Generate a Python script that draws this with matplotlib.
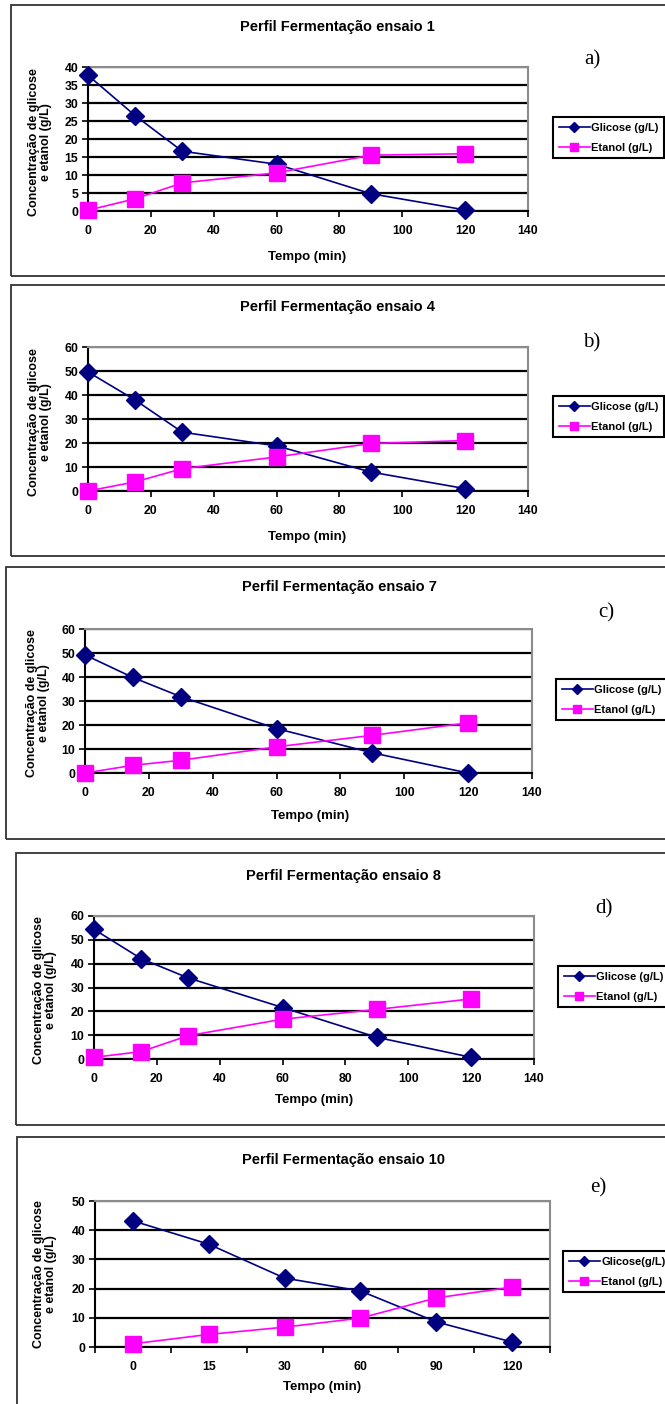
import matplotlib
matplotlib.use("Agg")
import matplotlib.pyplot as plt
import numpy as np
from matplotlib.patches import Rectangle

plt.rcParams['font.family'] = ['Liberation Sans', 'DejaVu Sans']
plt.rcParams['font.weight'] = 'bold'

# ---- data -------------------------------------------------------------
tempo = [0, 15, 30, 60, 90, 120]
tempo_labels = ['0', '15', '30', '60', '90', '120']

glicose_1 = [37.7, 26.5, 16.6, 13.0, 4.8, 0.3]
etanol_1 = [0.2, 3.4, 7.8, 10.6, 15.5, 15.9]
glicose_4 = [49.6, 37.9, 24.5, 18.8, 7.9, 1.0]
etanol_4 = [0.0, 3.8, 9.3, 14.2, 19.8, 21.0]
glicose_7 = [49.2, 39.8, 31.8, 18.5, 8.4, 0.0]
etanol_7 = [0.0, 3.2, 5.3, 10.9, 15.7, 20.9]
glicose_8 = [54.4, 42.1, 34.0, 21.6, 9.1, 0.7]
etanol_8 = [0.7, 3.1, 9.8, 16.7, 20.8, 25.2]
glicose_10 = [43.2, 35.2, 23.6, 19.2, 8.6, 1.7]
etanol_10 = [1.1, 4.3, 6.8, 9.9, 16.8, 20.5]

titles = ['Perfil Fermentação ensaio 1', 'Perfil Fermentação ensaio 4',
          'Perfil Fermentação ensaio 7', 'Perfil Fermentação ensaio 8',
          'Perfil Fermentação ensaio 10']
letters = ['a)', 'b)', 'c)', 'd)', 'e)']
glicose_names = ['Glicose (g/L)'] * 4 + ['Glicose(g/L)']
etanol_name = 'Etanol (g/L)'
xlabel = 'Tempo (min)'
ylabel = 'Concentração de glicose\ne etanol (g/L)'

# ---- layout (pixels) --------------------------------------------------
W, H = 665, 1404
fig = plt.figure(figsize=(W / 100, H / 100), dpi=100)


def fx(x):
    return x / W


def fy(y):
    return 1 - y / H


panels = [
    dict(g=glicose_1, e=etanol_1, ymax=40, ystep=5, cat=False,
         plot=(88, 67, 528, 211), box=(11, 5, 700, 276),
         title=(337, 27), letter=(592, 60), leg=(553, 117),
         xl=(307, 257), yl=(40, 142)),
    dict(g=glicose_4, e=etanol_4, ymax=60, ystep=10, cat=False,
         plot=(88, 347, 528, 491), box=(11, 285, 700, 556),
         title=(337, 307), letter=(592, 343), leg=(553, 396),
         xl=(307, 537), yl=(40, 422)),
    dict(g=glicose_7, e=etanol_7, ymax=60, ystep=10, cat=False,
         plot=(85, 629, 532, 773), box=(6, 567, 700, 839),
         title=(339, 587), letter=(606, 613), leg=(556, 679),
         xl=(310, 816), yl=(38, 703)),
    dict(g=glicose_8, e=etanol_8, ymax=60, ystep=10, cat=False,
         plot=(94, 916, 534, 1059), box=(16, 853, 700, 1125),
         title=(343, 876), letter=(604, 909), leg=(558, 966),
         xl=(314, 1100), yl=(45, 990)),
    dict(g=glicose_10, e=etanol_10, ymax=50, ystep=10, cat=True,
         plot=(95, 1201, 550, 1347), box=(17, 1137, 700, 1450),
         title=(343, 1160), letter=(598, 1188), leg=(563, 1251),
         xl=(322, 1387), yl=(45, 1274)),
]

navy = '#000080'
magenta = '#FF00FF'

for i, p in enumerate(panels):
    l, t, r, b = p['plot']
    ax = fig.add_axes([fx(l), fy(b), (r - l) / W, (b - t) / H])

    if p['cat']:
        x = np.arange(len(tempo))
    else:
        x = np.array(tempo)

    lg, = ax.plot(x, p['g'], color=navy, marker='D', ms=9.5, lw=1.2,
                  clip_on=False, zorder=3)
    le, = ax.plot(x, p['e'], color=magenta, marker='s', ms=11, lw=1.2,
                  clip_on=False, zorder=3)

    ax.set_ylim(0, p['ymax'])
    ax.set_yticks(np.arange(0, p['ymax'] + 1, p['ystep']))
    if p['cat']:
        # category axis: labels centred, tick marks on category borders
        ax.set_xlim(-0.5, len(tempo) - 0.5)
        ax.set_xticks(x)
        ax.set_xticklabels(tempo_labels)
        ax.set_xticks(np.arange(-0.5, len(tempo)), minor=True)
        ax.tick_params(axis='x', which='major', length=0, pad=10)
        ax.tick_params(axis='x', which='minor', length=4, width=1.2,
                       direction='out')
    else:
        ax.set_xlim(0, 140)
        ax.set_xticks(np.arange(0, 141, 20))
        ax.tick_params(axis='x', length=4, width=1.2, direction='out', pad=6)

    ax.tick_params(axis='y', length=4, width=1.2, direction='out', pad=3)
    ax.tick_params(labelsize=8.8)
    for lab in ax.get_xticklabels() + ax.get_yticklabels():
        lab.set_fontweight('bold')

    ax.yaxis.grid(True, color='black', lw=1.6)
    ax.set_axisbelow(True)
    for s in ('top', 'right'):
        ax.spines[s].set_color('#8c8c8c')
        ax.spines[s].set_linewidth(1.5)
    for s in ('left', 'bottom'):
        ax.spines[s].set_color('black')
        ax.spines[s].set_linewidth(1.5)

    # outer frame of each chart
    bl, bt, br, bb = p['box']
    fig.patches.append(Rectangle((fx(bl), fy(bb)), (br - bl) / W,
                                 (bb - bt) / H, transform=fig.transFigure,
                                 fill=False, edgecolor='#333333', lw=1.3))

    fig.text(fx(p['title'][0]), fy(p['title'][1]), titles[i], ha='center',
             va='center', fontsize=10.5, fontweight='bold')
    fig.text(fx(p['letter'][0]), fy(p['letter'][1]), letters[i], ha='center',
             va='center', fontsize=15, fontweight='normal',
             family='Liberation Serif')
    fig.text(fx(p['xl'][0]), fy(p['xl'][1]), xlabel, ha='center',
             va='center', fontsize=9.5, fontweight='bold')
    fig.text(fx(p['yl'][0]), fy(p['yl'][1]), ylabel, ha='center',
             va='center', rotation=90, fontsize=9, fontweight='bold',
             multialignment='center', linespacing=1.1)

    leg = fig.legend([lg, le], [glicose_names[i], etanol_name],
                     loc='upper left',
                     bbox_to_anchor=(fx(p['leg'][0]), fy(p['leg'][1])),
                     fontsize=8, frameon=True, fancybox=False,
                     edgecolor='black', framealpha=1, borderpad=0.5,
                     handlelength=2.8, handletextpad=0.15, labelspacing=0.9,
                     borderaxespad=0, markerscale=0.5)
    leg.get_frame().set_linewidth(1.5)
    for txt in leg.get_texts():
        txt.set_fontweight('bold')

fig.savefig('out.png', dpi=100, facecolor='white')
